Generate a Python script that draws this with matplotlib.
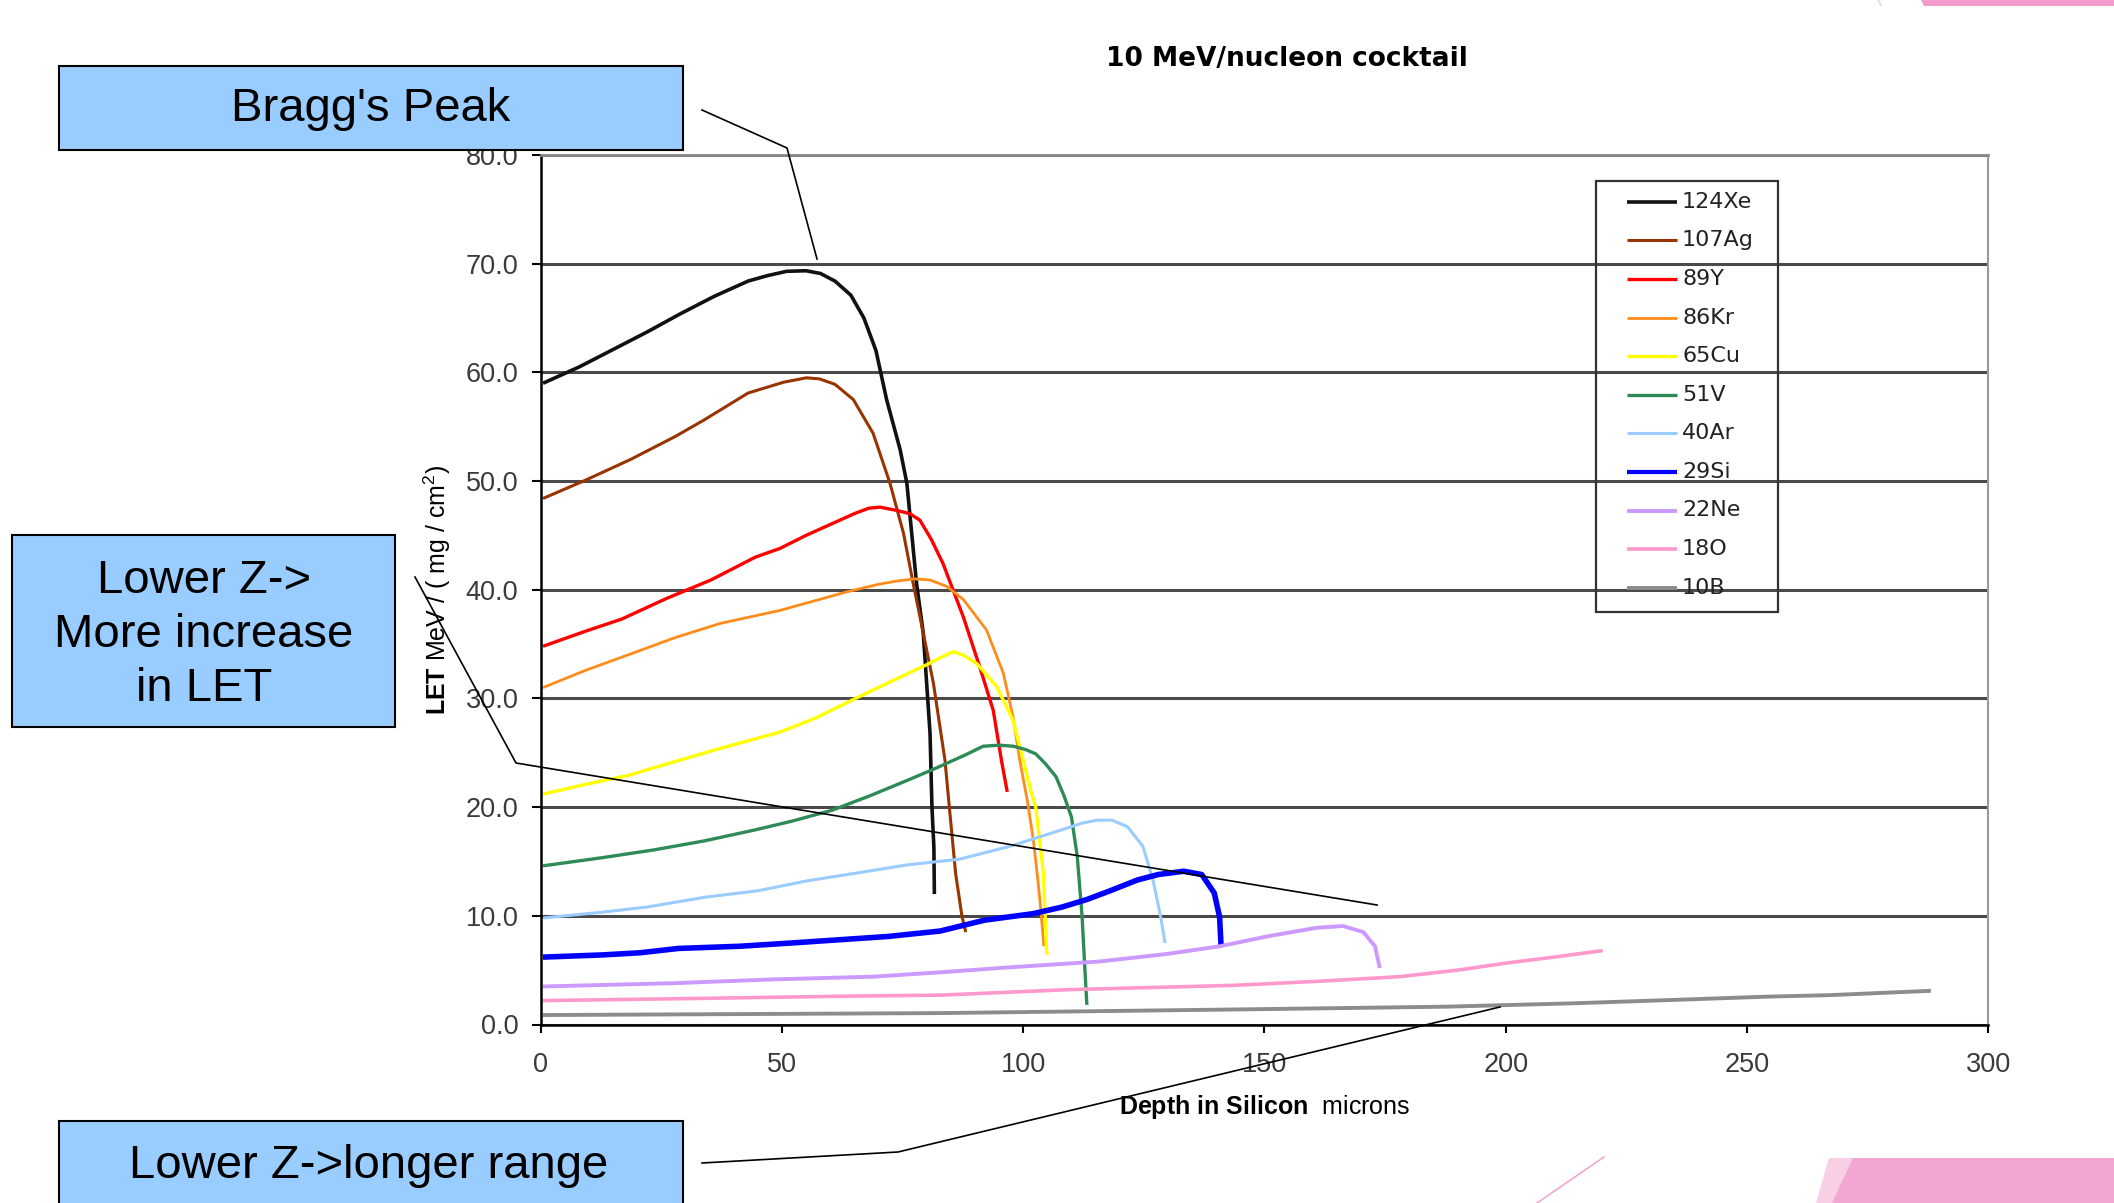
import numpy as np
import matplotlib.pyplot as plt
from matplotlib.patches import Rectangle, Polygon

plt.rcParams['font.family'] = ['Liberation Sans', 'DejaVu Sans']
plt.rcParams['mathtext.fontset'] = 'custom'
plt.rcParams['mathtext.rm'] = 'Liberation Sans'
plt.rcParams['mathtext.it'] = 'Liberation Sans:italic'
plt.rcParams['mathtext.bf'] = 'Liberation Sans:bold'

# ---- data (depth in microns, LET) ----
ions = ['124Xe', '107Ag', '89Y', '86Kr', '65Cu', '51V', '40Ar', '29Si', '22Ne', '18O', '10B']

xe_x = [0.5, 8, 15, 22, 29, 36, 43, 47, 51, 55, 58, 61, 64.3, 67, 69.5, 71.7, 74.5, 75.9, 76.9,
        77.9, 79.3, 80.0, 80.7, 81.1, 81.5, 81.6]
xe_y = [59.0, 60.5, 62.1, 63.7, 65.4, 67.0, 68.4, 68.9, 69.3, 69.35, 69.1, 68.4, 67.1, 65.0, 62.0,
        57.5, 52.9, 49.8, 45.2, 40.6, 36.0, 31.4, 26.8, 20.0, 16.3, 12.0]

ag_x = [0.5, 9.4, 18.7, 27.9, 33.8, 43.0, 50.4, 55.1, 57.8, 61.0, 64.8, 68.9, 72.4, 75.2, 77.2,
        79.3, 81.4, 83.8, 84.7, 86.0, 87.3, 88.1]
ag_y = [48.4, 50.1, 52.0, 54.1, 55.6, 58.1, 59.1, 59.5, 59.4, 58.9, 57.5, 54.4, 49.8, 45.2, 40.6,
        36.0, 31.4, 24.3, 20.0, 13.9, 10.0, 8.5]

y_x = [0.5, 9.4, 16.8, 26.1, 35.3, 44.5, 49.6, 55.0, 60.0, 65.0, 68, 70.3, 73.8, 76.5, 78.6, 81,
       83.4, 87.6, 91.0, 93.8, 95.5, 96.7]
y_y = [34.8, 36.2, 37.3, 39.2, 40.9, 43.0, 43.8, 45.0, 46.0, 47.0, 47.5, 47.6, 47.3, 47.0, 46.4,
       44.6, 42.4, 37.5, 32.9, 28.9, 24.3, 21.4]

kr_x = [0.5, 9.4, 18.7, 27.9, 37.2, 49.6, 63.4, 70, 73.8, 77.5, 80.7, 84.2, 87.6, 92.4, 95.9, 97.9,
        99.3, 100.9, 102.1, 103.0, 103.6, 104.3]
kr_y = [31.0, 32.6, 34.1, 35.6, 36.9, 38.1, 39.8, 40.5, 40.8, 41.0, 40.9, 40.3, 39.1, 36.3, 32.3,
        28.3, 24.3, 20.5, 17.0, 13.5, 10.8, 7.2]

cu_x = [0.5, 9.4, 18.0, 27.9, 37.2, 49.6, 57, 64.8, 72.3, 80.0, 83.5, 85.5, 87.5, 90.4, 94.5,
        97.9, 100.0, 101.6, 102.6, 103.4, 104.2, 104.6, 104.9]
cu_y = [21.2, 22.1, 22.9, 24.2, 25.4, 26.9, 28.2, 29.9, 31.5, 33.1, 33.9, 34.3, 34.0, 33.2, 31.1,
        28.0, 24.3, 21.5, 20.0, 17.0, 13.9, 9.5, 6.4]

v_x = [0.5, 12, 23.3, 34, 44.4, 52, 60.3, 68, 76.2, 82, 85.5, 88, 91.7, 95, 98.0, 100.5, 102.6,
       104.6, 106.8, 108.5, 110.0, 111.2, 112.2, 112.8, 113.2]
v_y = [14.6, 15.3, 16.05, 16.9, 17.9, 18.7, 19.7, 21.0, 22.5, 23.6, 24.3, 24.8, 25.6, 25.7, 25.6,
       25.3, 24.9, 24.0, 22.8, 21.0, 19.1, 15.5, 10.0, 5.0, 1.8]

ar_x = [0.5, 12, 22, 33.9, 45, 55.0, 65, 76.2, 86.7, 97.3, 107.9, 112, 115.3, 118.4, 121.6, 124.8,
        126.9, 128.5, 129.4]
ar_y = [9.8, 10.3, 10.8, 11.7, 12.3, 13.2, 13.9, 14.7, 15.2, 16.4, 17.9, 18.5, 18.8, 18.8, 18.2,
        16.4, 13.3, 9.9, 7.5]

si_x = [0.5, 12.7, 20.6, 28.6, 41.3, 52, 62.0, 72, 82.8, 92.0, 102.1, 108, 113.2, 118, 123.7, 128,
        133.3, 137.0, 139.6, 140.7, 141.0]
si_y = [6.2, 6.4, 6.6, 7.0, 7.2, 7.5, 7.8, 8.1, 8.6, 9.6, 10.2, 10.8, 11.5, 12.3, 13.3, 13.8, 14.1,
        13.8, 12.1, 9.9, 7.3]

ne_x = [0.5, 27.5, 48.2, 68.9, 82.8, 95.2, 115.9, 130, 140.8, 150.5, 160.8, 166.3, 170.5, 172.9, 173.9]
ne_y = [3.5, 3.8, 4.15, 4.4, 4.8, 5.2, 5.8, 6.5, 7.2, 8.1, 8.9, 9.06, 8.5, 7.2, 5.2]

o_x = [0.5, 33, 62, 82.8, 109, 143.5, 160, 178, 190, 200.9, 210, 220.1]
o_y = [2.2, 2.4, 2.6, 2.7, 3.2, 3.6, 3.95, 4.4, 5.0, 5.7, 6.2, 6.8]

b_x = [0.5, 82.8, 147, 187.7, 214, 234, 254, 267, 288.1]
b_y = [0.87, 1.05, 1.4, 1.64, 1.95, 2.25, 2.56, 2.7, 3.1]

series_x = [xe_x, ag_x, y_x, kr_x, cu_x, v_x, ar_x, si_x, ne_x, o_x, b_x]
series_y = [xe_y, ag_y, y_y, kr_y, cu_y, v_y, ar_y, si_y, ne_y, o_y, b_y]

colors = ['#111111', '#993300', '#ff0000', '#ff8c1a', '#ffff00', '#2e8b57', '#99ccff',
          '#0000ff', '#cc99ff', '#ff99cc', '#8c8c8c']
widths = [2.6, 2.2, 2.4, 2.0, 2.4, 2.4, 2.2, 4.0, 2.8, 2.6, 2.8]

yticks = np.arange(0, 81, 10)
xticks = np.arange(0, 301, 50)

# ---- figure ----
W, H = 2114, 1203
fig = plt.figure(figsize=(W / 100, H / 100), dpi=100)
ax = fig.add_axes([540.6 / W, 1 - 1024.5 / H, (1988.3 - 540.6) / W, (1024.5 - 155) / H])

for xs, ys, c, lw in zip(series_x, series_y, colors, widths):
    ax.plot(xs, ys, color=c, lw=lw, solid_capstyle='butt', solid_joinstyle='round')

ax.set_xlim(0, 300)
ax.set_ylim(0, 80)
ax.set_yticks(yticks)
ax.set_yticklabels(['%.1f' % v for v in yticks])
ax.set_xticks(xticks)
ax.yaxis.grid(True, color='#4a4a4a', lw=2.2)
ax.set_axisbelow(True)
ax.tick_params(axis='y', direction='out', length=6.5, width=1.5, pad=9.5, labelsize=19.5,
               labelcolor='#3a3a3a')
ax.tick_params(axis='x', direction='out', length=6, width=1.5, pad=13.5, labelsize=19.5,
               labelcolor='#3a3a3a')
ax.spines['top'].set_color('#888888')
ax.spines['top'].set_linewidth(2)
ax.spines['right'].set_color('#9a9a9a')
ax.spines['right'].set_linewidth(1.5)
ax.spines['left'].set_linewidth(1.8)
ax.spines['bottom'].set_linewidth(1.8)

ax.set_ylabel(r'$\mathbf{LET}$ MeV / ( mg / cm$^2$)', fontsize=18)
ax.yaxis.set_label_coords((453 - 540.6) / 1447.7, 0.5)
ax.set_xlabel(r'$\mathbf{Depth\ in\ Silicon}$  microns', fontsize=18)
ax.xaxis.set_label_coords(0.5, (1024.5 - 1093) / 869.5)

fig.text(1287 / W, 1 - 59 / H, '10 MeV/nucleon cocktail', ha='center', va='center',
         family='DejaVu Sans', fontweight='bold', fontsize=19)

# ---- overlay in pixel coordinates: legend, callouts, decorations ----
ov = fig.add_axes([0, 0, 1, 1])
ov.set_xlim(0, W)
ov.set_ylim(H, 0)
ov.axis('off')

# legend
ov.add_patch(Rectangle((1596, 181), 182, 431, fill=False, ec='#333333', lw=1.6))
for i, (name, c, lw) in enumerate(zip(ions, colors, widths)):
    yy = 201.7 + i * 38.6
    ov.plot([1627, 1677], [yy, yy], color=c, lw=min(lw, 3.0), solid_capstyle='butt')
    ov.text(1682, yy, name, ha='left', va='center', family='DejaVu Sans', fontsize=16,
            color='#222222')

# callout boxes
box_fc = '#99ccff'
ov.add_patch(Rectangle((59, 66), 624, 84, fc=box_fc, ec='black', lw=1.5))
ov.text(371, 109, "Bragg's Peak", ha='center', va='center', fontsize=34)
ov.add_patch(Rectangle((12, 535), 383, 192, fc=box_fc, ec='black', lw=1.5))
ov.text(204, 635, 'Lower Z->\nMore increase\nin LET', ha='center', va='center', fontsize=34,
        linespacing=1.3)
ov.add_patch(Rectangle((59, 1121), 624, 100, fc=box_fc, ec='black', lw=1.5, clip_on=False))
ov.text(369, 1166, 'Lower Z->longer range', ha='center', va='center', fontsize=34)

# leader lines
ov.plot([702, 787, 817], [110, 148, 259], color='black', lw=1.2)
ov.plot([415, 516, 1377], [577, 763, 905], color='black', lw=1.2)
ov.plot([702, 898, 1500], [1163, 1152, 1007], color='black', lw=1.2)

# pink slide decorations
ov.add_patch(Polygon([(1921, 0), (2114, 0), (2114, 6), (1924, 6)], closed=True,
                     fc='#f49acc', ec='none'))
ov.add_patch(Polygon([(1829, 1158), (2114, 1158), (2114, 1203), (1816, 1203)], closed=True,
                     fc='#f8cfe5', ec='none'))
ov.add_patch(Polygon([(1853, 1158), (2114, 1158), (2114, 1203), (1832, 1203)], closed=True,
                     fc='#f3a6d1', ec='none'))
ov.plot([1604, 1537], [1157, 1203], color='#f4a6cf', lw=1.2)
ov.plot([1878, 1881], [0, 5], color='#f8cde4', lw=1.2)

fig.savefig('out.png', dpi=100)
